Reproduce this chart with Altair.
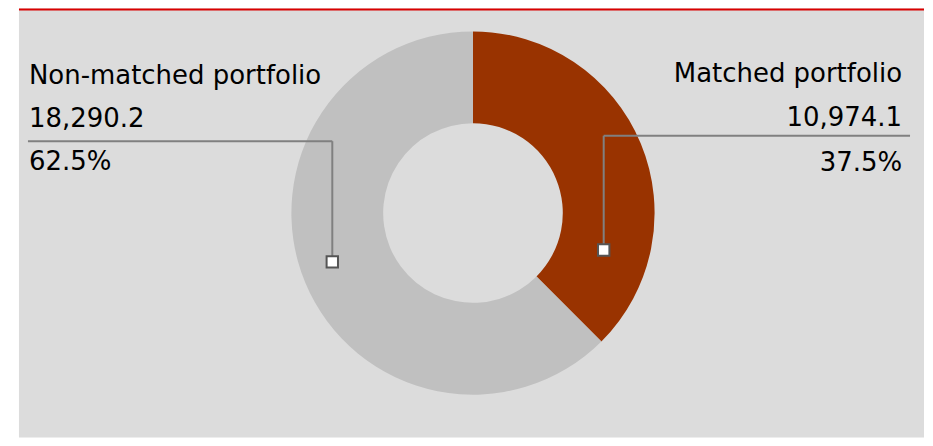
import altair as alt
import pandas as pd

categories = ["Matched portfolio", "Non-matched portfolio"]
values = [10974.1, 18290.2]
order_idx = [0, 1]
colors = ["#993300", "#c0c0c0"]

total = sum(values)
df = pd.DataFrame({
    "category": categories,
    "value": values,
    "pct": [v / total for v in values],
    "idx": order_idx,
})

FONT = "DejaVu Sans"
FS = 26
base = alt.Chart(df)

donut = base.mark_arc(outerRadius=182, innerRadius=90).encode(
    theta=alt.Theta("value:Q", stack=True),
    color=alt.Color("category:N", scale=alt.Scale(domain=categories, range=colors), legend=None),
    order=alt.Order("idx:Q"),
    x=alt.value(455),
    y=alt.value(205),
)

top_rule = base.transform_filter(alt.datum.idx == 0).mark_rule(color="#d90000", strokeWidth=2).encode(
    x=alt.value(0), x2=alt.value(907), y=alt.value(1)
)


def labels(cat, x, ys, align):
    sub = base.transform_filter(alt.datum.category == cat)
    common = dict(font=FONT, fontSize=FS, color="#000000", align=align, baseline="alphabetic")
    t1 = sub.mark_text(**common).encode(text="category:N", x=alt.value(x), y=alt.value(ys[0]))
    t2 = sub.mark_text(**common).encode(text=alt.Text("value:Q", format=",.1f"), x=alt.value(x), y=alt.value(ys[1]))
    t3 = sub.mark_text(**common).encode(text=alt.Text("pct:Q", format=".1%"), x=alt.value(x), y=alt.value(ys[2]))
    return [t1, t2, t3]


def leader(cat, hx1, hx2, hy, vx, vy2):
    sub = base.transform_filter(alt.datum.category == cat)
    h = sub.mark_rule(color="#808080", strokeWidth=2).encode(
        x=alt.value(hx1), x2=alt.value(hx2), y=alt.value(hy))
    v = sub.mark_rule(color="#808080", strokeWidth=2).encode(
        x=alt.value(vx), y=alt.value(hy), y2=alt.value(vy2))
    m = sub.mark_square(size=130, filled=True, fill="#ffffff", stroke="#555555", strokeWidth=2, opacity=1).encode(
        x=alt.value(vx), y=alt.value(vy2))
    return [h, v, m]


layers = [donut, top_rule]
layers += leader("Non-matched portfolio", 9, 314, 133, 314, 254)
layers += leader("Matched portfolio", 586, 893, 127.5, 586, 242)
layers += labels("Non-matched portfolio", 10, [76, 119, 162], "left")
layers += labels("Matched portfolio", 885, [74, 118, 163], "right")

chart = alt.layer(*layers).properties(
    width=907, height=430,
    padding={"left": 10, "top": 0, "right": 0, "bottom": 0},
    background="#ffffff",
).configure_view(fill="#dcdcdc", strokeWidth=0)

chart.save("out.html", embed_options={"renderer": "svg", "actions": False})
